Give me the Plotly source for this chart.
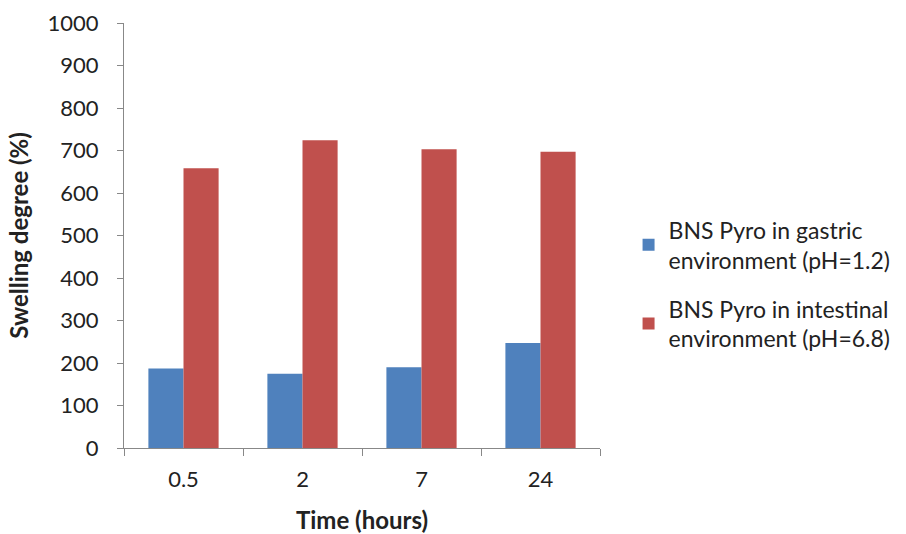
import plotly.graph_objects as go

categories = ["0.5", "2", "7", "24"]
gastric = [187, 175, 190, 247]
intestinal = [658, 724, 703, 697]
series_names = ["BNS Pyro in gastric<br>environment (pH=1.2)",
                "BNS Pyro in intestinal<br>environment (pH=6.8)"]
y_ticks = list(range(0, 1001, 100))

FONT = "Lato, Open Sans, sans-serif"

fig = go.Figure()
fig.add_trace(go.Bar(x=categories, y=gastric, name=series_names[0], legendgroup="a",
                     marker=dict(color="#4F81BD", line=dict(width=0))))
fig.add_trace(go.Bar(x=categories, y=intestinal, name=series_names[1], legendgroup="b",
                     marker=dict(color="#C0504D", line=dict(width=0))))

fig.update_layout(
    width=906, height=534,
    margin=dict(l=124, r=306, t=23, b=86, autoexpand=False),
    paper_bgcolor="white", plot_bgcolor="white",
    barmode="group", bargap=0.41, bargroupgap=0,
    font=dict(family=FONT, size=22, color="#222"),
    legend=dict(x=1.06, y=0.385, xanchor="left", yanchor="middle",
                font=dict(family=FONT, size=23, color="#222"),
                tracegroupgap=16, itemwidth=30, bgcolor="rgba(0,0,0,0)"),
    xaxis=dict(
        type="category", showline=True, linecolor="#888", linewidth=1,
        ticks="outside", tickson="boundaries", ticklen=7, tickcolor="#888",
        showgrid=False, zeroline=False, tickfont=dict(size=22),
        ticklabelstandoff=12,
        title=dict(text="<b>Time (hours)</b>", font=dict(size=24), standoff=20),
    ),
    yaxis=dict(
        range=[0, 1000], tickvals=y_ticks, showline=True, linecolor="#888",
        linewidth=1, ticks="outside", ticklen=6, tickcolor="#888",
        showgrid=False, zeroline=False, tickfont=dict(size=22),
        ticklabelstandoff=14,
        title=dict(text="<b>Swelling degree (%)</b>", font=dict(size=24), standoff=12),
    ),
)

fig.write_html("out.html")
